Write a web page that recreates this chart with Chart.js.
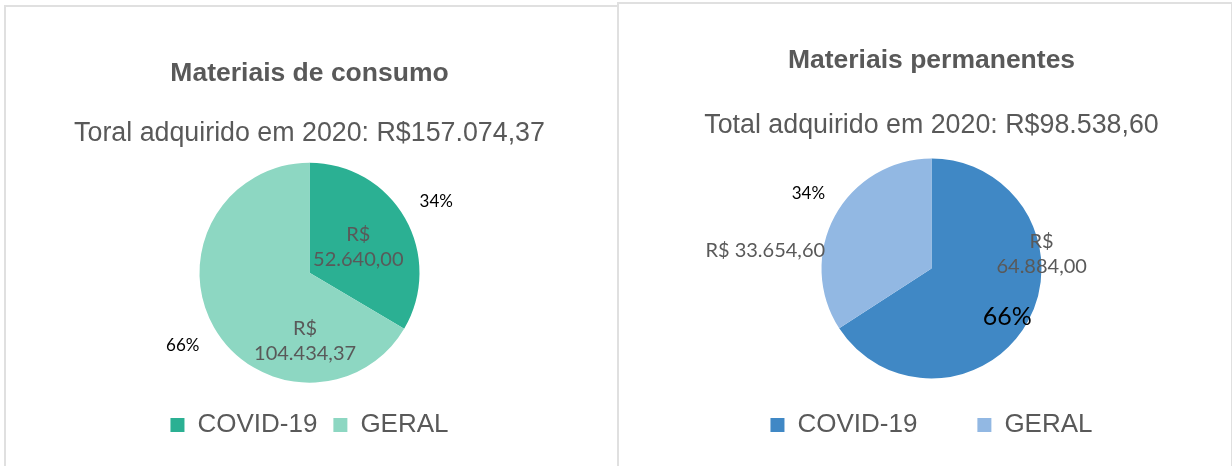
<!DOCTYPE html>
<html>
<head>
<meta charset="utf-8">
<script src="https://cdn.jsdelivr.net/npm/chart.js@4.4.1/dist/chart.umd.min.js"></script>
<style>
  body { margin: 0; background: #fff; width: 1232px; height: 466px; overflow: hidden; position: relative; }
  .panel { position: absolute; box-sizing: border-box; border: 2px solid #e0e0e0; background: #fff; }
  canvas { position: absolute; }
</style>
</head>
<body>
<div class="panel" style="left:4px;top:5px;width:615px;height:480px"></div>
<div class="panel" style="left:617px;top:2px;width:616px;height:480px"></div>
<canvas id="consumo" style="left:6px;top:8px;width:611px;height:458px" width="611" height="458"></canvas>
<canvas id="permanentes" style="left:619px;top:4px;width:611px;height:462px" width="611" height="462"></canvas>
<script>
// dados
var categories = ['COVID-19', 'GERAL'];
var consumoValues = [52640.00, 104434.37];
var permanentesValues = [64884.00, 33654.60];

var consumoColors = ['#2BB093', '#8DD7C2'];
var permanentesColors = ['#4088C5', '#92B8E3'];

var fontFamily = "'Liberation Sans', Arial, sans-serif";
var labelFamily = "Lato, 'Open Sans', sans-serif";

function brl(v) {
  const parts = v.toFixed(2).split('.');
  return parts[0].replace(/\B(?=(\d{3})+(?!\d))/g, '.') + ',' + parts[1];
}

// rotulos de valor e percentual em cada fatia
const sliceLabels = {
  id: 'sliceLabels',
  afterDatasetsDraw(chart, args, opts) {
    const ctx = chart.ctx;
    const meta = chart.getDatasetMeta(0);
    const values = chart.data.datasets[0].data;
    const total = values.reduce((a, b) => a + b, 0);
    meta.data.forEach((arc, i) => {
      const p = opts.place[i];
      const mid = (arc.startAngle + arc.endAngle) / 2;
      const at = (dDeg, dist) => {
        const a = mid + dDeg * Math.PI / 180;
        return [arc.x + Math.cos(a) * arc.outerRadius * dist, arc.y + Math.sin(a) * arc.outerRadius * dist];
      };
      ctx.save();
      ctx.textAlign = 'center';
      ctx.textBaseline = 'middle';
      const money = brl(values[i]);
      const lines = p.oneLine ? ['R$ ' + money] : ['R$', money];
      let xy = at(p.value[0], p.value[1]);
      ctx.font = '20px ' + labelFamily;
      ctx.fillStyle = '#595959';
      lines.forEach((t, k) => ctx.fillText(t, xy[0], xy[1] + (k - (lines.length - 1) / 2) * 25));
      xy = at(p.pct[0], p.pct[1]);
      ctx.font = (p.pct[2] || 17) + 'px ' + labelFamily;
      ctx.fillStyle = '#000';
      ctx.fillText(Math.round(values[i] / total * 100) + '%', xy[0], xy[1]);
      ctx.restore();
    });
  }
};

function pieChart(id, values, colors, title, subtitle, t, place) {
  return new Chart(document.getElementById(id), {
    type: 'pie',
    data: {
      labels: categories,
      datasets: [{ data: values, backgroundColor: colors, borderWidth: 0, radius: 110, hoverOffset: 0 }]
    },
    options: {
      responsive: false,
      animation: false,
      layout: { padding: t.pad },
      plugins: {
        title: {
          display: true, text: title, color: '#595959',
          font: { family: fontFamily, size: 26.5, weight: 'bold' },
          padding: { top: t.titleTop, bottom: 0 }
        },
        subtitle: {
          display: true, text: subtitle, color: '#595959',
          font: { family: fontFamily, size: 26.8 },
          padding: { top: t.subTop, bottom: t.subBottom }
        },
        legend: {
          position: 'bottom',
          labels: { color: '#595959', font: { family: fontFamily, size: 26 }, boxWidth: 14, boxHeight: 14, padding: t.legendGap }
        },
        tooltip: { enabled: false },
        sliceLabels: { place: place }
      }
    },
    plugins: [sliceLabels]
  });
}

pieChart('consumo', consumoValues, consumoColors,
  'Materiais de consumo', 'Toral adquirido em 2020: R$157.074,37',
  { pad: { left: 1, right: 5, top: 0, bottom: 18 }, titleTop: 50, subTop: 27.5, subBottom: 0, legendGap: 16 },
  [
    { value: [2.2, 0.50], pct: [0.5, 1.32] },
    { value: [-56.6, 0.62], pct: [-0.3, 1.33] }
  ]);

pieChart('permanentes', permanentesValues, permanentesColors,
  'Materiais permanentes', 'Total adquirido em 2020: R$98.538,60',
  { pad: { left: 14, right: 0, top: 0, bottom: 18 }, titleTop: 41, subTop: 33, subBottom: 43, legendGap: 60 },
  [
    { value: [-36, 1.01], pct: [4.3, 0.82, 25] },
    { value: [-22.4, 1.52], pct: [2.8, 1.31], oneLine: true }
  ]);
</script>
</body>
</html>
